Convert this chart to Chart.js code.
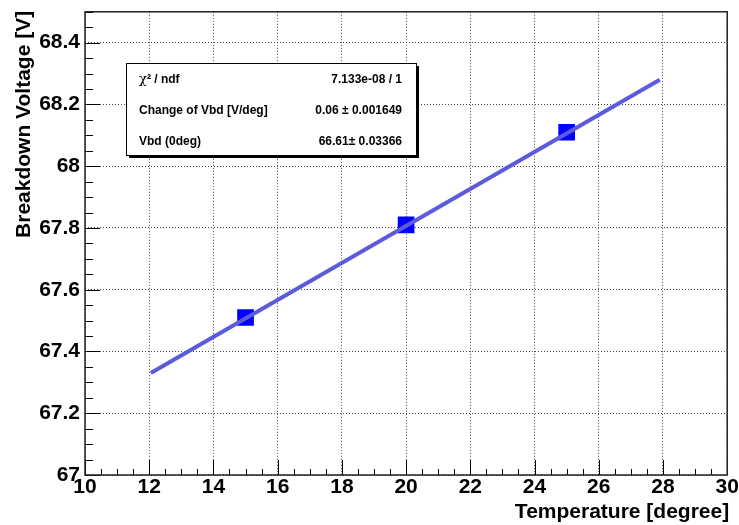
<!DOCTYPE html>
<html>
<head>
<meta charset="utf-8">
<script src="https://cdn.jsdelivr.net/npm/chart.js@4.4.0/dist/chart.umd.min.js"></script>
<style>
  html, body { margin: 0; padding: 0; background: #fff; }
  #wrap { width: 739px; height: 525px; }
</style>
</head>
<body>
<div id="wrap"><canvas id="vbdChart" width="739" height="525"></canvas></div>
<script>
// measured points
const temps = [15, 20, 25];
const vbd = [67.51, 67.81, 68.11];

// fit line end points
const fitX = [12.05, 27.9];
const fitY = [67.33, 68.28];

// stats box
const statLabels = ['χ² / ndf', 'Change of Vbd [V/deg]', 'Vbd (0deg)'];
const statValues = ['7.133e-08 / 1', '0.06 ± 0.001649', '66.61± 0.03366'];

const xTitle = 'Temperature [degree]';
const yTitle = 'Breakdown Voltage [V]';

const FONT = '"Liberation Sans", Arial, sans-serif';

// ROOT style frame, inward ticks, titles and the stats box
const rootStyle = {
    id: 'rootStyle',
    afterDatasetsDraw(chart) {
        const ctx = chart.ctx;
        const a = chart.chartArea;
        const xs = chart.scales.x, ys = chart.scales.y;
        ctx.save();

        // minor + major ticks pointing inward
        ctx.strokeStyle = '#000';
        ctx.lineWidth = 1;
        ctx.beginPath();
        for (let i = 0; i <= 40; i++) {
            const v = 10 + i * 0.5;
            const px = Math.round(xs.getPixelForValue(v)) + 0.5;
            const len = (i % 4 === 0) ? 15 : 6;
            ctx.moveTo(px, a.bottom);
            ctx.lineTo(px, a.bottom - len);
        }
        for (let i = 0; i <= 30; i++) {
            const v = 67 + i * 0.05;
            const py = Math.round(ys.getPixelForValue(v)) + 0.5;
            const len = (i % 4 === 0) ? 15 : 8;
            ctx.moveTo(a.left, py);
            ctx.lineTo(a.left + len, py);
        }
        ctx.stroke();

        // frame
        ctx.lineWidth = 1.5;
        ctx.strokeStyle = '#222';
        ctx.strokeRect(a.left, a.top, a.right - a.left, a.bottom - a.top);

        // axis titles
        ctx.fillStyle = '#000';
        ctx.font = 'bold 21px ' + FONT;
        ctx.textAlign = 'right';
        ctx.textBaseline = 'middle';
        ctx.fillText(xTitle, a.right + 2, 512);
        ctx.save();
        ctx.translate(24, a.top - 1);
        ctx.rotate(-Math.PI / 2);
        ctx.fillText(yTitle, 0, 0);
        ctx.restore();

        // stats box with shadow
        const bx = 126, by = 63, bw = 290, bh = 92;
        ctx.fillStyle = '#000';
        ctx.fillRect(bx + 3, by + 3, bw, bh);
        ctx.fillStyle = '#fff';
        ctx.fillRect(bx, by, bw, bh);
        ctx.lineWidth = 1;
        ctx.strokeStyle = '#000';
        ctx.strokeRect(bx + 0.5, by + 0.5, bw, bh);

        const rowY = [80, 111, 142];
        ctx.fillStyle = '#000';
        ctx.textBaseline = 'middle';
        statLabels.forEach((lab, i) => {
            ctx.textAlign = 'left';
            if (lab.startsWith('χ')) {
                ctx.font = '13px "DejaVu Serif", serif';
                ctx.fillText('χ', 139, rowY[i]);
                const w = ctx.measureText('χ').width;
                ctx.font = 'bold 12px ' + FONT;
                ctx.fillText(lab.slice(1), 139 + w, rowY[i]);
            } else {
                ctx.font = 'bold 12px ' + FONT;
                ctx.fillText(lab, 139, rowY[i]);
            }
            ctx.textAlign = 'right';
            ctx.font = 'bold 12px ' + FONT;
            ctx.fillText(statValues[i], 402, rowY[i]);
        });

        ctx.restore();
    }
};

const ctx = document.getElementById('vbdChart').getContext('2d');

new Chart(ctx, {
    type: 'scatter',
    data: {
        datasets: [
            {
                label: 'fit',
                data: fitX.map((x, i) => ({ x: x, y: fitY[i] })),
                showLine: true,
                borderColor: '#5b5bdc',
                borderWidth: 4,
                pointRadius: 0,
                fill: false
            },
            {
                label: 'Vbd',
                data: temps.map((t, i) => ({ x: t, y: vbd[i] })),
                pointStyle: 'rect',
                pointRadius: 11.8,
                pointBorderWidth: 0,
                backgroundColor: '#0000ff',
                borderColor: '#0000ff'
            }
        ]
    },
    options: {
        responsive: false,
        animation: false,
        devicePixelRatio: 1,
        layout: { padding: { left: 0, top: 11, right: 10, bottom: 0 } },
        plugins: {
            legend: { display: false },
            tooltip: { enabled: false }
        },
        scales: {
            x: {
                type: 'linear',
                min: 10,
                max: 30,
                ticks: {
                    stepSize: 2,
                    padding: 0,
                    color: '#000',
                    font: { family: FONT, size: 21, weight: 'bold' },
                    maxRotation: 0
                },
                grid: { color: '#444', lineWidth: 1, drawTicks: false },
                border: { display: false, dash: [1, 2] },
                afterFit(scale) {
                    scale.height = 50;
                    scale.paddingLeft = 0;
                    scale.paddingRight = 0;
                }
            },
            y: {
                type: 'linear',
                min: 67,
                max: 68.5,
                ticks: {
                    stepSize: 0.2,
                    padding: 5,
                    color: '#000',
                    font: { family: FONT, size: 21, weight: 'bold' },
                    callback: v => String(Number(v.toFixed(1)))
                },
                grid: { color: '#444', lineWidth: 1, drawTicks: false },
                border: { display: false, dash: [1, 2] },
                afterBuildTicks(scale) {
                    scale.ticks = scale.ticks.filter(t => t.value <= 68.4 + 1e-9);
                },
                afterFit(scale) {
                    scale.width = 85;
                    scale.paddingTop = 0;
                    scale.paddingBottom = 0;
                }
            }
        }
    },
    plugins: [rootStyle]
});
</script>
</body>
</html>
